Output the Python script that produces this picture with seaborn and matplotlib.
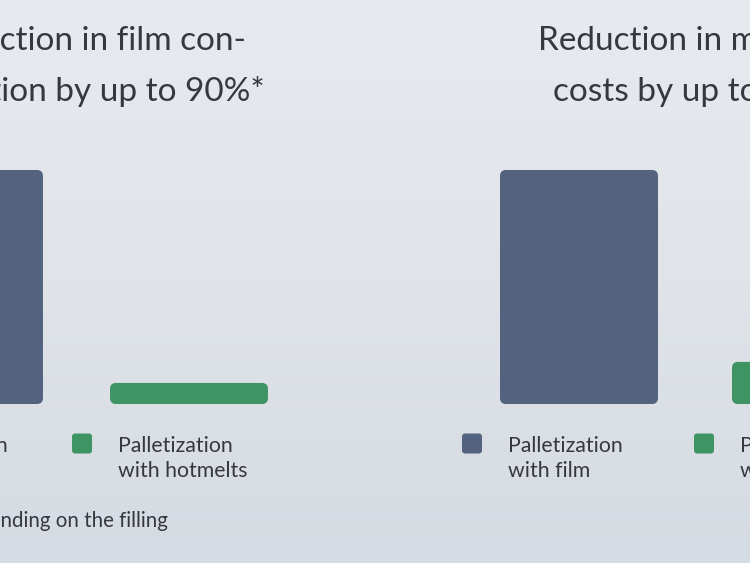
import numpy as np
import pandas as pd
import seaborn as sns
import matplotlib.pyplot as plt
from matplotlib.patches import FancyBboxPatch
from matplotlib.colors import LinearSegmentedColormap
import matplotlib.transforms as mtransforms

# ---- data ----
methods = ["Palletization\nwith film", "Palletization\nwith hotmelts"]
film_values = [100, 9]
cost_values = [100, 18]
titles = ["Reduction in film con-\nsumption by up to 90%*",
          "Reduction in material\ncosts by up to 80%"]
footnote = "* Depending on the filling"
bar_colors = ["#52627f", "#3f9463"]
text_color = "#35383e"

sns.set_style("white")
plt.rcParams['font.family'] = ['Lato', 'DejaVu Sans']

W, H = 750, 563
fig = plt.figure(figsize=(W / 100, H / 100), dpi=100)

# background gradient
bg = fig.add_axes([0, 0, 1, 1], zorder=0)
cmap = LinearSegmentedColormap.from_list("bg", ["#e7eaee", "#e0e4e9", "#d5dbe2"])
bg.imshow(np.linspace(0, 1, 256)[:, None], aspect="auto", cmap=cmap,
          extent=[0, 1, 0, 1])
bg.axis("off")


def px_rect(x0, top, w, h):
    return [x0 / W, 1 - (top + h) / H, w / W, h / H]


panels = [
    (film_values, px_rect(-148.5, 170, 450, 234), 0.702),
    (cost_values, px_rect(463, 170, 464, 234), 0.681),
]

ident = mtransforms.IdentityTransform()

for vals, rect, bw in panels:
    ax = fig.add_axes(rect, zorder=1)
    df = pd.DataFrame({"method": methods, "value": vals})
    sns.barplot(data=df, x="method", y="value", hue="method", order=methods,
                hue_order=methods, palette=bar_colors, width=bw, saturation=1,
                legend=False, ax=ax)
    ax.set_xlim(-0.5, 1.5)
    ax.set_ylim(0, 100)
    ax.axis("off")
    ax.patch.set_alpha(0)

    p0 = ax.transData.transform((0, 0))
    p1 = ax.transData.transform((1, 1))
    ppx = p1[0] - p0[0]
    ppy = p1[1] - p0[1]
    radius_px = 6
    for patch, col, label in zip(list(ax.patches), bar_colors, methods):
        x, y = patch.get_x(), patch.get_y()
        w, h = patch.get_width(), patch.get_height()
        patch.set_visible(False)
        r = radius_px / ppx
        fb = FancyBboxPatch((x, y), w, h,
                            boxstyle=f"round,pad=0,rounding_size={r}",
                            mutation_aspect=ppx / ppy,
                            facecolor=col, edgecolor="none", zorder=2)
        ax.add_patch(fb)
        # legend key under each bar
        left_px = ax.transData.transform((x, 0))[0]
        key = FancyBboxPatch((left_px - 38, H - 453.5), 20, 20,
                             boxstyle="round,pad=0,rounding_size=3",
                             facecolor=col, edgecolor="none",
                             transform=ident, zorder=3)
        fig.add_artist(key)
        for i, line in enumerate(label.split("\n")):
            fig.text((left_px + 8) / W, 1 - (452 + 25 * i) / H, line,
                     fontsize=15.3, color=text_color, va="baseline", ha="left",
                     zorder=3)

# titles
title_centers = [85, 693]
for cx, t in zip(title_centers, titles):
    for i, line in enumerate(t.split("\n")):
        fig.text((cx + 2 * i * (cx < 375)) / W, 1 - (50 + 51 * i) / H, line,
                 fontsize=24, color=text_color, ha="center", va="baseline",
                 zorder=3)

fig.text(168 / W, 1 - 527 / H, footnote, fontsize=14.8, color=text_color,
         ha="right", va="baseline", zorder=3)

fig.savefig("out.png", dpi=100)
